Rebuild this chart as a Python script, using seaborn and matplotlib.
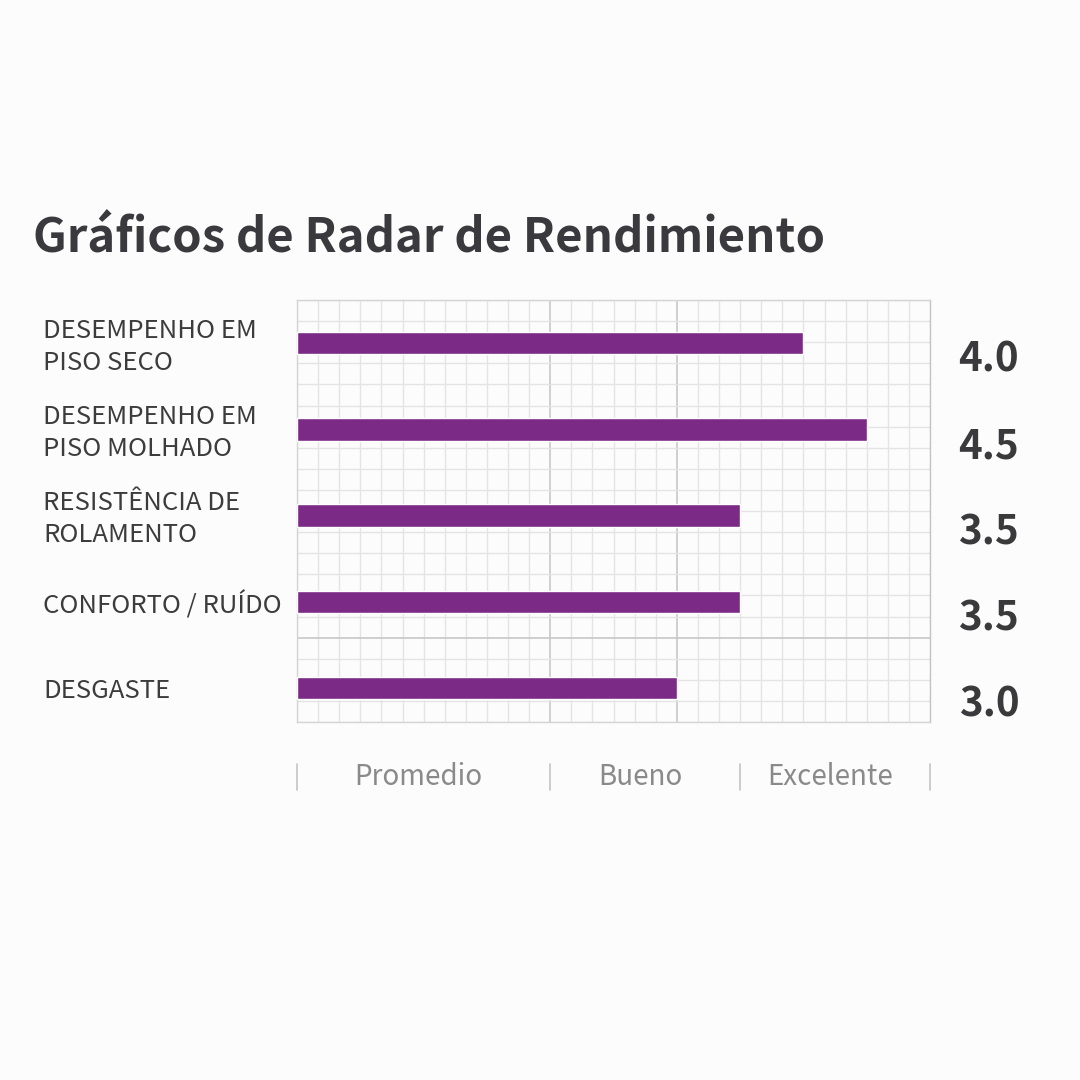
import numpy as np
import matplotlib
matplotlib.use("Agg")
import matplotlib.pyplot as plt
import matplotlib.transforms as mtransforms
import seaborn as sns

# data
categories = ["DESEMPENHO EM\nPISO SECO", "DESEMPENHO EM\nPISO MOLHADO",
              "RESISTÊNCIA DE\nROLAMENTO", "CONFORTO / RUÍDO", "DESGASTE"]
scores = [4.0, 4.5, 3.5, 3.5, 3.0]
score_labels = ["4.0", "4.5", "3.5", "3.5", "3.0"]
band_names = ["Promedio", "Bueno", "Excelente"]
band_edges = [0, 2, 3.5, 5]

sns.set_style("white")
plt.rcParams["font.family"] = ["Noto Sans CJK SC", "DejaVu Sans"]

bg = "#fcfcfc"
fig = plt.figure(figsize=(10.8, 10.8), dpi=100, facecolor=bg)
ax = fig.add_axes([297 / 1080, 1 - 722 / 1080, 633 / 1080, 422 / 1080])
ax.set_facecolor(bg)

sns.barplot(x=scores, y=list(range(len(categories))), orient="h",
            color="#7b2a85", width=0.26, saturation=1, ax=ax, zorder=3)

ax.set_xlim(0, 5)
ax.set_ylim(4.394, -0.5)

# grid paper
ax.set_xticks(np.arange(0, 5.001, 1 / 6), minor=True)
ax.set_xticks([2, 3])
yrows = np.linspace(-0.5, 4.394, 21)
ax.set_yticks(yrows, minor=True)
ax.set_yticks([yrows[16]])
ax.grid(which="minor", color="#e4e4e4", linewidth=1.0, zorder=0)
ax.grid(which="major", color="#c8c8c8", linewidth=1.2, zorder=0)
ax.set_axisbelow(True)
ax.tick_params(which="both", length=0, labelbottom=False, labelleft=False)
ax.set_xlabel("")
ax.set_ylabel("")
for s in ax.spines.values():
    s.set_color("#d4d4d4")
    s.set_linewidth(1.0)
ax.spines["right"].set_color("#c4c4c4")

# category labels on the left
lab_tr = mtransforms.blended_transform_factory(fig.transFigure, ax.transData)
for i, c in enumerate(categories):
    ax.text(43 / 1080, i + 0.04, c, transform=lab_tr, ha="left", va="center",
            fontsize=18.5, color="#3c3c3c", linespacing=1.3, clip_on=False)

# scores on the right
val_tr = mtransforms.blended_transform_factory(ax.transAxes, ax.transData)
for i, v in enumerate(score_labels):
    ax.text(1.093, i + 0.2, v, transform=val_tr, ha="center", va="center",
            fontsize=29, fontweight="bold", color="#3a3a3c", clip_on=False)

# rating bands under the chart
band_tr = mtransforms.blended_transform_factory(ax.transData, fig.transFigure)
for e in band_edges:
    ax.plot([e, e], [1 - 790 / 1080, 1 - 764 / 1080], transform=band_tr,
            color="#c4c4c4", linewidth=1.2, clip_on=False)
for name, a, b in zip(band_names, band_edges[:-1], band_edges[1:]):
    ax.text((a + b) / 2 - 0.04, 1 - 777 / 1080, name, transform=band_tr,
            ha="center", va="center", fontsize=20, color="#8a8a8a",
            fontweight="light")

fig.text(33 / 1080, 1 - 252 / 1080, "Gráficos de Radar de Rendimiento",
         ha="left", va="baseline", fontsize=34, fontweight="bold",
         color="#3a3a3e")

fig.savefig("out.png", dpi=100, facecolor=bg)
